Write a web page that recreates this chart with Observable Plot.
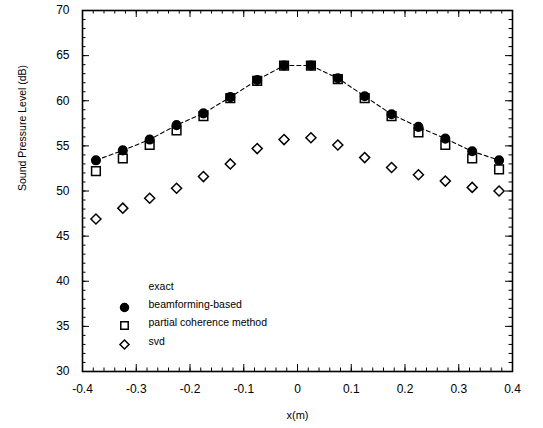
<!DOCTYPE html>
<html><head><meta charset="utf-8">
<script src="https://cdn.jsdelivr.net/npm/d3@7"></script>
<script src="https://cdn.jsdelivr.net/npm/@observablehq/plot@0.6"></script>
<style>
body{margin:0;background:#fff}
#chart svg{display:block}
</style>
</head><body><div id="chart"></div>
<script>
// ---- data ----
const xPositions = [-0.375,-0.325,-0.275,-0.225,-0.175,-0.125,-0.075,-0.025,0.025,0.075,0.125,0.175,0.225,0.275,0.325,0.375];
const exact            = [53.4,54.5,55.7,57.3,58.6,60.4,62.3,63.9,63.9,62.5,60.5,58.5,57.1,55.8,54.4,53.4];
const beamforming      = [53.4,54.5,55.7,57.3,58.6,60.4,62.3,63.9,63.9,62.5,60.5,58.5,57.1,55.8,54.4,53.4];
const partialCoherence = [52.2,53.6,55.1,56.7,58.3,60.3,62.2,63.9,63.9,62.4,60.3,58.3,56.5,55.1,53.6,52.4];
const svd              = [46.9,48.1,49.2,50.3,51.6,53.0,54.7,55.7,55.9,55.1,53.7,52.6,51.8,51.1,50.4,50.0];
const seriesNames = ["exact","beamforming-based","partial coherence method","svd"];
const xTicks = [-0.4,-0.3,-0.2,-0.1,0,0.1,0.2,0.3,0.4];
const yTicks = [30,35,40,45,50,55,60,65,70];
const xLabel = "x(m)";
const yLabel = "Sound Pressure Level (dB)";

// ---- layout ----
const W = 543, H = 428, mL = 82, mR = 31, mT = 10, mB = 57;
const xDom = [-0.4, 0.4], yDom = [30, 70];
const pxX = (xDom[1]-xDom[0])/(W-mL-mR);
const pxY = (yDom[1]-yDom[0])/(H-mT-mB);
const xMinor = d3.range(0, 41).map(i => +(xDom[0] + i*0.02).toFixed(2));
const yMinor = d3.range(yDom[0], yDom[1]+1, 1);

const rows = (xs, ys) => xs.map((x,i) => ({x, y: ys[i]}));
const diamond = {draw(ctx, size){ const h = Math.sqrt(size/2); ctx.moveTo(0,-h); ctx.lineTo(h,0); ctx.lineTo(0,h); ctx.lineTo(-h,0); ctx.closePath(); }};
const font = "'Liberation Sans', Arial, sans-serif";

function ticksX(vals, len){
  const t = [];
  for (const v of vals) {
    t.push({x: v, y1: yDom[0], y2: yDom[0] + len*pxY});
    t.push({x: v, y1: yDom[1], y2: yDom[1] - len*pxY});
  }
  return Plot.ruleX(t, {x: "x", y1: "y1", y2: "y2", stroke: "black", strokeWidth: 1});
}
function ticksY(vals, len){
  const t = [];
  for (const v of vals) {
    t.push({y: v, x1: xDom[0], x2: xDom[0] + len*pxX});
    t.push({y: v, x1: xDom[1], x2: xDom[1] - len*pxX});
  }
  return Plot.ruleY(t, {y: "y", x1: "x1", x2: "x2", stroke: "black", strokeWidth: 1});
}

const legendDy = [-82, -64, -46, -27];
const legendSymbols = [null, "circle", "square", diamond];
const legendR = [0, 4, 4.2, 3.6];

const chart = Plot.plot({
  width: W, height: H,
  marginLeft: mL, marginRight: mR, marginTop: mT, marginBottom: mB,
  style: {fontFamily: font},
  x: {domain: xDom},
  y: {domain: yDom},
  marks: [
    ticksX(xMinor, 3.5), ticksX(xTicks, 7),
    ticksY(yMinor, 3.5), ticksY(yTicks, 7),
    Plot.frame({strokeWidth: 1.6}),
    Plot.axisX(xTicks, {tickSize: 0, tickPadding: 13, fontSize: 12, tickFormat: d => String(d), label: null}),
    Plot.axisY(yTicks, {tickSize: 0, tickPadding: 13, fontSize: 12, tickFormat: d => String(d), label: null}),
    Plot.text([xLabel], {text: d=>d, frameAnchor: "bottom", dy: 47, fontSize: 11, fill: "black"}),
    Plot.text([yLabel], {text: d=>d, frameAnchor: "left", dx: -60, rotate: -90, fontSize: 10.5, fill: "black"}),
    // exact line
    Plot.line(rows(xPositions, exact), {x: "x", y: "y", stroke: "black", strokeWidth: 1.1, strokeDasharray: "4,3"}),
    // series markers
    Plot.dot(rows(xPositions, svd), {x: "x", y: "y", symbol: diamond, r: 4, fill: "white", stroke: "black", strokeWidth: 1.5}),
    Plot.dot(rows(xPositions, beamforming), {x: "x", y: "y", symbol: "circle", r: 4.3, fill: "black", stroke: "black"}),
    Plot.dot(rows(xPositions, partialCoherence), {x: "x", y: "y", symbol: "square", r: 4.9, fill: "none", stroke: "black", strokeWidth: 1.5}),
    // legend
    ...seriesNames.map((name, i) => Plot.text([name], {text: d=>d, frameAnchor: "bottom-left", dx: 66, dy: legendDy[i], textAnchor: "start", fontSize: 10.5, fill: "black"})),
    ...seriesNames.map((name, i) => legendSymbols[i] ? Plot.dot([name], {frameAnchor: "bottom-left", dx: 42, dy: legendDy[i], symbol: legendSymbols[i], r: legendR[i], fill: i===1 ? "black" : "white", stroke: "black", strokeWidth: 1.5}) : null).filter(Boolean)
  ]
});
document.getElementById("chart").appendChild(chart);
</script>
</body></html>
